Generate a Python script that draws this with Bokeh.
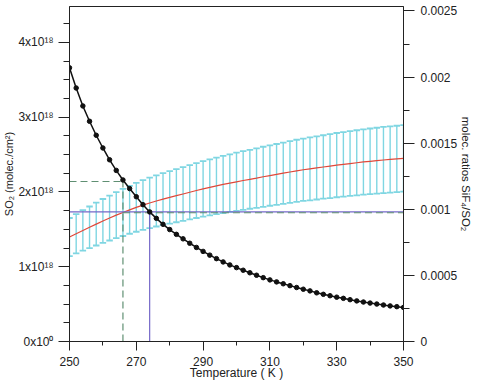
from bokeh.plotting import figure
from bokeh.models import Range1d, LinearAxis, FixedTicker
from bokeh.embed import file_html
from bokeh.resources import INLINE

# ---- data ----
temperature = list(range(250, 351, 2))  # K

# SO2 column (units of 1e18 molec/cm2)
so2_e18 = [3.660, 3.390, 3.150, 2.945, 2.758, 2.588, 2.430, 2.288, 2.160, 2.045,
           1.936, 1.830, 1.733, 1.647, 1.567, 1.497, 1.433, 1.373, 1.314, 1.258,
           1.205, 1.155, 1.108, 1.064, 1.024, 0.988, 0.953, 0.919, 0.886, 0.854,
           0.824, 0.797, 0.772, 0.747, 0.722, 0.699, 0.677, 0.651, 0.631, 0.612,
           0.593, 0.577, 0.559, 0.543, 0.528, 0.514, 0.501, 0.488, 0.476, 0.466,
           0.456]

# SiF4/SO2 ratio (units of 1e-3)
ratio_e3 = [0.790, 0.815, 0.840, 0.864, 0.888, 0.912, 0.934, 0.956, 0.976, 0.996,
            1.015, 1.032, 1.048, 1.063, 1.077, 1.090, 1.103, 1.116, 1.129, 1.142,
            1.155, 1.166, 1.177, 1.188, 1.198, 1.208, 1.218, 1.227, 1.236, 1.246,
            1.255, 1.264, 1.273, 1.282, 1.291, 1.299, 1.306, 1.313, 1.320, 1.327,
            1.334, 1.340, 1.346, 1.352, 1.358, 1.363, 1.368, 1.373, 1.377, 1.381,
            1.385]

ratio_err_e3 = [0.144, 0.148, 0.153, 0.157, 0.162, 0.166, 0.170, 0.174, 0.178, 0.181,
                0.185, 0.188, 0.191, 0.193, 0.196, 0.198, 0.201, 0.203, 0.205, 0.208,
                0.210, 0.212, 0.214, 0.216, 0.218, 0.220, 0.222, 0.223, 0.225, 0.227,
                0.228, 0.230, 0.232, 0.233, 0.235, 0.236, 0.238, 0.239, 0.240, 0.242,
                0.243, 0.244, 0.245, 0.246, 0.247, 0.248, 0.249, 0.250, 0.251, 0.251,
                0.252]

# reference markers
purple_T = 274.0
purple_so2_e18 = 1.733
green_T = 266.0
green_so2_e18 = 2.14
green_ratio_e3 = 0.974

# axes / ticks
x_ticks = [250, 270, 290, 310, 330, 350]
x_minor = [260, 280, 300, 320, 340]
left_ticks = [0, 1, 2, 3, 4]
left_minor = [0.25, 0.5, 0.75, 1.25, 1.5, 1.75, 2.25, 2.5, 2.75, 3.25, 3.5, 3.75, 4.25]
left_labels = ["0x10\u2070", "1x10\u00b9\u2078", "2x10\u00b9\u2078", "3x10\u00b9\u2078", "4x10\u00b9\u2078"]
right_ticks = [0, 0.5, 1.0, 1.5, 2.0, 2.5]
right_minor = [0.25, 0.75, 1.25, 1.75, 2.25]
right_labels = ["0", "0.0005", "0.001", "0.0015", "0.002", "0.0025"]

x_min, x_max = 250, 350
left_max = 4.48
right_max = 2.534

FONT = "Liberation Sans"
AXC = "#222222"

p = figure(width=481, height=382, x_range=Range1d(x_min, x_max), y_range=Range1d(0, left_max),
           output_backend="svg", toolbar_location=None,
           min_border_left=69, min_border_right=78, min_border_top=6, min_border_bottom=40,
           background_fill_color="white", border_fill_color="white")
p.extra_y_ranges = {"ratio": Range1d(0, right_max)}
p.xgrid.visible = False
p.ygrid.visible = False
p.outline_line_color = AXC
p.outline_line_width = 1

# error bars (cyan)
upper = [r + e for r, e in zip(ratio_e3, ratio_err_e3)]
lower = [r - e for r, e in zip(ratio_e3, ratio_err_e3)]
CY = "#7fd6e2"
p.segment(x0=temperature, y0=lower, x1=temperature, y1=upper, y_range_name="ratio",
          line_color=CY, line_width=1.4)
p.scatter(temperature, upper, marker="dash", size=6.5, line_color=CY, line_width=1.8, y_range_name="ratio")
p.scatter(temperature, lower, marker="dash", size=6.5, line_color=CY, line_width=1.8, y_range_name="ratio")

# red ratio line
p.line(temperature, ratio_e3, y_range_name="ratio", line_color="#e0483a", line_width=1.2)

# purple reference lines
PU = "#7468c8"
p.line([x_min, x_max], [purple_so2_e18, purple_so2_e18], line_color=PU, line_width=1.2)
p.line([purple_T, purple_T], [0, purple_so2_e18], line_color=PU, line_width=1.2)

# green dashed reference lines
GR = "#5f8f72"
p.line([x_min, green_T], [green_so2_e18, green_so2_e18], line_color=GR, line_width=1.2, line_dash="7 4")
p.line([green_T, green_T], [0, green_so2_e18], line_color=GR, line_width=1.2, line_dash="7 4")
p.line([green_T, x_max], [green_ratio_e3, green_ratio_e3], y_range_name="ratio",
       line_color=GR, line_width=1.2, line_dash="7 4")

# black SO2 curve
p.line(temperature, so2_e18, line_color="#111111", line_width=1.5)
p.scatter(temperature, so2_e18, size=4.5, fill_color="#111111", line_color="#111111")

# right axis
raxis = LinearAxis(y_range_name="ratio")
p.add_layout(raxis, "right")


def style(ax, tick_out, minor_out):
    ax.axis_line_color = AXC
    ax.major_tick_line_color = AXC
    ax.minor_tick_line_color = AXC
    ax.major_tick_in = 0
    ax.minor_tick_in = 0
    ax.major_tick_out = tick_out
    ax.minor_tick_out = minor_out
    ax.major_label_text_font = FONT
    ax.major_label_text_font_size = "12px"
    ax.major_label_text_color = AXC
    ax.axis_label_text_font = FONT
    ax.axis_label_text_font_style = "normal"
    ax.axis_label_text_color = AXC


xa = p.xaxis[0]
style(xa, 9, 4)
xa.ticker = FixedTicker(ticks=x_ticks, minor_ticks=x_minor)
xa.axis_label = "Temperature ( K )"
xa.axis_label_text_font_size = "12px"
xa.major_label_standoff = 6
xa.axis_label_standoff = -3

la = p.yaxis[0]
style(la, 11, 6)
la.ticker = FixedTicker(ticks=left_ticks, minor_ticks=left_minor)
la.major_label_overrides = {t: s for t, s in zip(left_ticks, left_labels)}
la.axis_label = "SO\u2082 (molec./cm\u00b2)"
la.axis_label_text_font_size = "11px"
la.major_label_standoff = 5
la.axis_label_standoff = 0

style(raxis, 11, 6)
raxis.ticker = FixedTicker(ticks=right_ticks, minor_ticks=right_minor)
raxis.major_label_overrides = {t: s for t, s in zip(right_ticks, right_labels)}
raxis.axis_label = "molec. ratios SiF\u2084/SO\u2082"
raxis.axis_label_text_font_size = "11.5px"
raxis.major_label_standoff = 6
raxis.axis_label_standoff = 0

open("out.html", "w").write(file_html(p, INLINE))
